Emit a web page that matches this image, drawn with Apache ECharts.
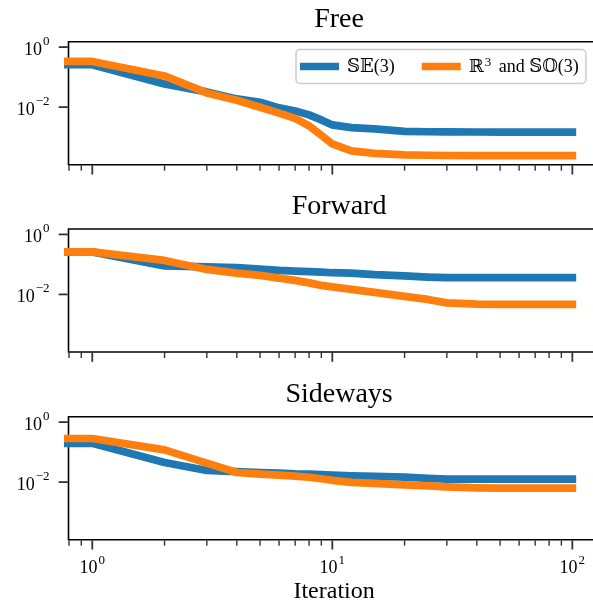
<!DOCTYPE html>
<html>
<head>
<meta charset="utf-8">
<script src="https://cdn.jsdelivr.net/npm/echarts@6/dist/echarts.min.js"></script>
<style>html,body{margin:0;padding:0;background:#fff}#c{width:593px;height:608px}</style>
</head>
<body>
<div id="c"></div>
<script>
// ---- data ----
const panelTitles = ['Free', 'Forward', 'Sideways'];
const seriesNames = ['\u{1D54A}\u{1D53C}(3)', '\u211D\u00B3 and \u{1D54A}\u{1D546}(3)'];
const iterations = [0.5, 1, 2, 3, 4, 5, 6, 7, 8, 9, 10, 12, 15, 20, 25, 30, 40, 50, 70, 100];
const freeSE = [0.259, 0.259, 0.0593, 0.0321, 0.01875, 0.01456, 0.0094, 0.00746, 0.0055, 0.00374, 0.00255, 0.00206, 0.00187, 0.00155, 0.00151, 0.00149, 0.00148, 0.00146, 0.00146, 0.00146];
const freeRSO = [0.333, 0.333, 0.1096, 0.0297, 0.01687, 0.00993, 0.00631, 0.0042, 0.00236, 0.001156, 0.000593, 0.000347, 0.000286, 0.000255, 0.000248, 0.000244, 0.000242, 0.000242, 0.000242, 0.000242];
const forwardSE = [0.261, 0.261, 0.0891, 0.0826, 0.0776, 0.0697, 0.0631, 0.0598, 0.0571, 0.055, 0.0528, 0.0509, 0.0454, 0.0414, 0.0378, 0.0361, 0.0361, 0.0361, 0.0361, 0.0361];
const forwardRSO = [0.261, 0.261, 0.136, 0.0681, 0.0513, 0.043, 0.0349, 0.0293, 0.0242, 0.02, 0.0178, 0.0147, 0.01167, 0.00857, 0.0068, 0.00521, 0.00475, 0.00465, 0.00465, 0.00465];
const sidewaysSE = [0.196, 0.196, 0.045, 0.0244, 0.0225, 0.0209, 0.02, 0.0189, 0.0185, 0.0178, 0.0171, 0.0162, 0.0156, 0.0147, 0.0134, 0.0126, 0.0126, 0.0126, 0.0126, 0.0126];
const sidewaysRSO = [0.284, 0.284, 0.119, 0.043, 0.0209, 0.0185, 0.0171, 0.0158, 0.0145, 0.0129, 0.01148, 0.00984, 0.00912, 0.00813, 0.00753, 0.00697, 0.00646, 0.00631, 0.00631, 0.00631];
const xMajorTicks = [1, 10, 100];
const xMinorTicks = [0.8, 0.9, 2, 3, 4, 5, 6, 7, 8, 9, 20, 30, 40, 50, 60, 70, 80, 90];
const yMajorTicks = [1, 0.01];
const xRange = [0.796, 130];
const yRange = [Math.pow(10, -3.92), Math.pow(10, 0.18)];
const xLabelText = 'Iteration';

const panelData = [[freeSE, freeRSO], [forwardSE, forwardRSO], [sidewaysSE, sidewaysRSO]];
const colors = ['#1f77b4', '#ff7f0e'];
const serif = '"Liberation Serif", "DejaVu Serif", serif';

function powLabel(v, evenOnly) {
  const e = Math.log10(v);
  const r = Math.round(e);
  if (Math.abs(e - r) > 1e-6) return '';
  if (evenOnly && r % 2 !== 0) return '';
  const s = r < 0 ? '\u2212' + (-r) : String(r);
  return '{b|10}{s|' + s + '}';
}
const rich = {
  b: { fontFamily: serif, fontSize: 18, color: '#000', lineHeight: 24, verticalAlign: 'bottom' },
  s: { fontFamily: serif, fontSize: 13, color: '#000', lineHeight: 24, verticalAlign: 'top', padding: [0, 0, 0, 1] }
};

const tops = [41.7, 229, 416.7];
const gridH = 123;
const gridL = 68.5;
const gridW = 531.2;

const grids = [], xAxes = [], yAxes = [], series = [], titles = [];
for (let i = 0; i < 3; i++) {
  grids.push({ left: gridL, top: tops[i], width: gridW, height: gridH, show: true, borderColor: '#000', borderWidth: 1.6,
    backgroundColor: 'transparent', containLabel: false, outerBoundsMode: 'none' });
  titles.push({ text: panelTitles[i], left: gridL + gridW / 2, top: tops[i] - 41.5, textAlign: 'center',
    textStyle: { fontFamily: serif, fontSize: 28, fontWeight: 'normal', color: '#000' } });
  xAxes.push({
    type: 'log', gridIndex: i, min: xRange[0], max: xRange[1],
    axisLine: { show: false }, axisTick: { show: false }, splitLine: { show: false }, minorTick: { show: false },
    axisLabel: { show: i === 2, margin: 14, formatter: v => powLabel(v, false), rich: rich, showMinLabel: false, showMaxLabel: false },
    name: i === 2 ? xLabelText : '', nameLocation: 'middle', nameGap: 40,
    nameTextStyle: { fontFamily: serif, fontSize: 24, color: '#000' }
  });
  yAxes.push({
    type: 'log', gridIndex: i, min: yRange[0], max: yRange[1],
    axisLine: { show: false }, axisTick: { show: false }, splitLine: { show: false }, minorTick: { show: false },
    axisLabel: { margin: 19, formatter: v => powLabel(v, true), rich: rich, showMinLabel: false, showMaxLabel: false }
  });
  for (let k = 0; k < 2; k++) {
    series.push({
      type: 'line', name: seriesNames[k], xAxisIndex: i, yAxisIndex: i,
      data: iterations.map((x, j) => [x, panelData[i][k][j]]),
      showSymbol: false, symbol: 'none', color: colors[k],
      lineStyle: { width: 7.7, color: colors[k], cap: 'square', join: 'round' },
      animation: false, silent: true, z: 2 + k
    });
  }
  const tickStyle = { type: 'scatter', xAxisIndex: i, yAxisIndex: i, symbol: 'rect', itemStyle: { color: '#000' }, silent: true, clip: false, animation: false, z: 10 };
  series.push(Object.assign({}, tickStyle, { data: xMajorTicks.map(v => [v, yRange[0]]), symbolSize: [1.8, 9], symbolOffset: [0, 5.3] }));
  series.push(Object.assign({}, tickStyle, { data: xMinorTicks.map(v => [v, yRange[0]]), symbolSize: [1.4, 5.2], symbolOffset: [0, 3.4] }));
  series.push(Object.assign({}, tickStyle, { data: yMajorTicks.map(v => [xRange[0], v]), symbolSize: [9, 1.8], symbolOffset: [-5.3, 0] }));
}

const chart = echarts.init(document.getElementById('c'), null, { renderer: 'canvas' });
chart.setOption({
  animation: false,
  backgroundColor: '#fff',
  title: titles,
  legend: {
    data: seriesNames, left: 296, top: 49.5, icon: 'rect', itemWidth: 39, itemHeight: 7.7, itemGap: 27,
    selectedMode: false, padding: [7, 7, 7, 4],
    backgroundColor: 'rgba(255,255,255,0.8)', borderColor: '#cccccc', borderWidth: 1.5, borderRadius: 4,
    formatter: function (name) {
      if (name === seriesNames[1]) return '{t|\u211D}{s|3}{t| and \u{1D54A}\u{1D546}(3)}';
      return '{t|' + name + '}';
    },
    textStyle: {
      fontFamily: serif, fontSize: 18, color: '#000', padding: [0, 0, 0, 3],
      rich: {
        t: { fontFamily: serif, fontSize: 18, color: '#000', lineHeight: 20, verticalAlign: 'bottom' },
        s: { fontFamily: serif, fontSize: 13, color: '#000', lineHeight: 20, verticalAlign: 'top', padding: [0, 3, 0, 1] }
      }
    }
  },
  grid: grids, xAxis: xAxes, yAxis: yAxes, series: series
});
</script>
</body>
</html>
